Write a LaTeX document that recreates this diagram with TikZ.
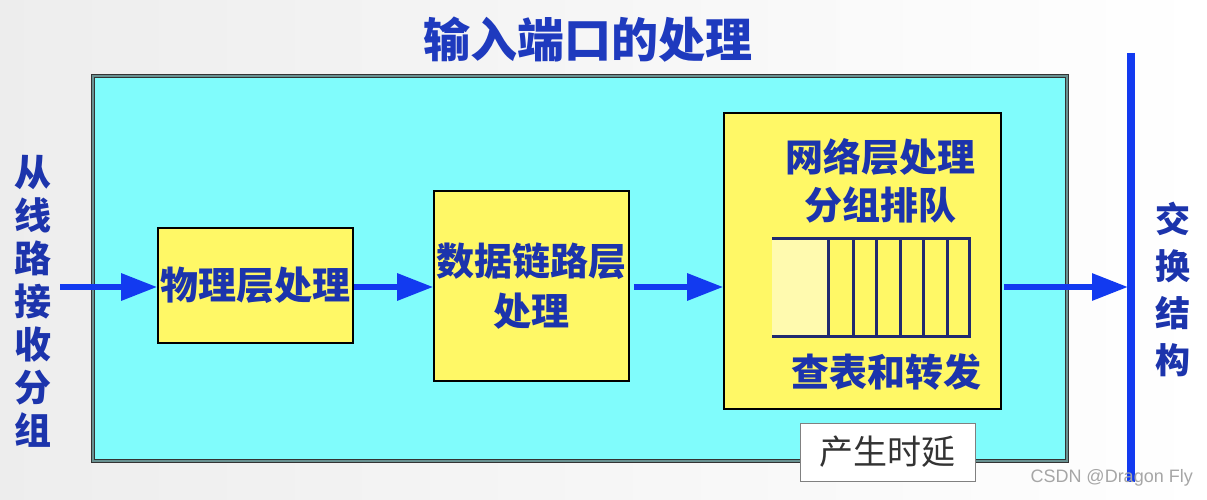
\documentclass[tikz,border=0pt]{standalone}
\usepackage{fontspec}
\usepackage{xcolor}
\usepackage{tikz}
\usetikzlibrary{arrows.meta,calc}
\newfontfamily\cjk{Noto Sans CJK SC}
\newfontfamily\wmfont{Liberation Sans}
\definecolor{portcyan}{RGB}{128,252,252}
\definecolor{portedge}{RGB}{105,145,145}
\definecolor{boxyel}{RGB}{255,248,102}
\definecolor{queueyel}{RGB}{255,250,175}
\definecolor{arrowblue}{RGB}{18,58,240}
\definecolor{txtblue}{RGB}{28,52,172}
\definecolor{titleblue}{RGB}{30,58,190}
\definecolor{queuecol}{RGB}{32,42,112}

\begin{document}
\begin{tikzpicture}[x=1pt, y=-1pt,
    every node/.style={font=\cjk\bfseries, text=txtblue, inner sep=0pt},
    procbox/.style={draw=black, line width=1.6pt, fill=boxyel, align=center},
    flow/.style={arrowblue, line width=6pt, -{Triangle[length=36pt, width=26pt]}}]

    %% frame and background
    \useasboundingbox (0,0) rectangle (1207,500);
    \shade[left color=black!7, right color=white] (0,0) rectangle (1207,500);

    \node[font=\cjk\bfseries\fontsize{47}{50}\selectfont, text=titleblue] (title) at (588,40)
      {输入端口的处理};

    \draw[fill=portcyan, draw=black!80, line width=1pt, double=portedge, double distance=2.5pt]
      (93,76) rectangle (1067,461);

    %% processing stages
    \node[procbox, minimum width=195pt, minimum height=115pt,
      font=\cjk\bfseries\fontsize{38}{44}\selectfont] (phy) at (255.5,285.5)
      {物理层处理};
    \node[procbox, minimum width=195pt, minimum height=190pt,
      font=\cjk\bfseries\fontsize{38}{50}\selectfont] (dll) at (531.5,286)
      {数据链路层\\处理};
    \node[procbox, minimum width=277pt, minimum height=296pt] (net) at (862.5,261)
      {};

    \node[font=\cjk\bfseries\fontsize{38}{40}\selectfont] (netl1) at (880,157)
      {网络层处理};
    \node[font=\cjk\bfseries\fontsize{38}{40}\selectfont] (netl2) at (880,205)
      {分组排队};
    \node[font=\cjk\bfseries\fontsize{38}{40}\selectfont] (lookup) at (886,372)
      {查表和转发};

    %% queue
    \fill[queueyel] (772,238) rectangle (828,336);
    \draw[queuecol, line width=3pt] (772,238) -- (969,238) -- (969,336) -- (772,336);
    \foreach \qx in {828,853,876,900,923,947}
      \draw[queuecol, line width=3pt] (\qx,238) -- (\qx,336);

    %% delay note
    \node[draw=gray, fill=white, line width=0.8pt, minimum width=175pt,
      minimum height=58pt, font=\cjk\fontsize{34}{38}\selectfont, text=black!80]
      (delay) at (887.5,452) {产生时延};

    %% side labels
    \node[align=center, font=\cjk\bfseries\fontsize{37}{43}\selectfont] (src) at (33,301)
      {从\\线\\路\\接\\收\\分\\组};
    \node[align=center, font=\cjk\bfseries\fontsize{35}{47}\selectfont] (fabric) at (1173,289)
      {交\\换\\结\\构};

    %% switch fabric bar
    \coordinate (swtop) at (1131,53);
    \coordinate (swbot) at (1131,482);
    \draw[arrowblue, line width=8pt] (swtop) -- (swbot);

    %% flow arrows
    \coordinate (in) at (60,287);
    \coordinate (out) at (1128,287);
    \draw[flow] (in) -- (phy.west |- in);
    \draw[flow] (phy.east |- in) -- (dll.west |- in);
    \draw[flow] ($(dll.east |- in)+(4,0)$) -- (net.west |- in);
    \draw[flow] ($(net.east |- in)+(2,0)$) -- (out);

    \node[anchor=east, font=\wmfont\fontsize{18}{20}\selectfont, text=gray!70]
      (mark) at (1193,478) {CSDN @Dragon Fly};

\end{tikzpicture}
\end{document}
